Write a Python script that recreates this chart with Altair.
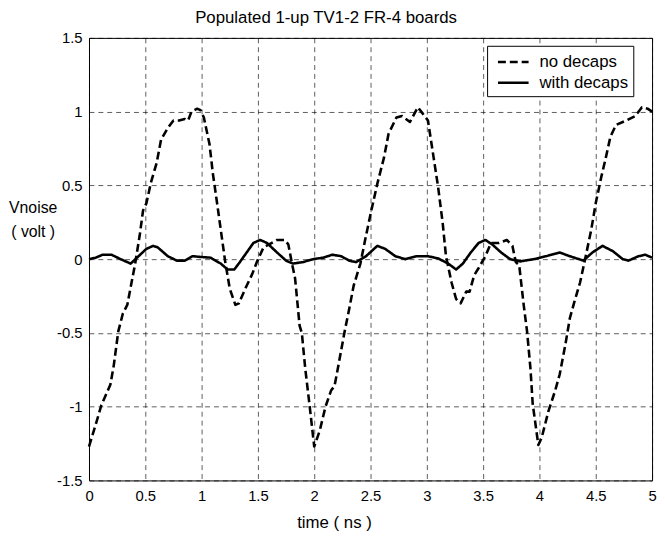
import altair as alt
import pandas as pd

# ---- data ----
t_no = [0.00, 0.06, 0.11, 0.19, 0.22, 0.26, 0.30, 0.34, 0.38, 0.41, 0.45, 0.48, 0.51, 0.55, 0.60,
        0.64, 0.70, 0.75, 0.80, 0.85, 0.88, 0.91, 0.96, 0.99, 1.02, 1.07, 1.10, 1.13, 1.17, 1.21,
        1.25, 1.30, 1.33, 1.40, 1.45, 1.49, 1.55, 1.60, 1.67, 1.74, 1.77, 1.80, 1.83, 1.87, 1.89,
        1.92, 1.96, 2.00, 2.05, 2.10, 2.15, 2.18, 2.21, 2.27, 2.31, 2.35, 2.41, 2.46, 2.51, 2.56,
        2.62, 2.66, 2.73, 2.78, 2.85, 2.92, 2.95, 3.01, 3.06, 3.10, 3.14, 3.17, 3.22, 3.26, 3.30,
        3.35, 3.38, 3.42, 3.46, 3.52, 3.57, 3.64, 3.71, 3.76, 3.79, 3.82, 3.86, 3.89, 3.92, 3.94,
        3.99, 4.02, 4.08, 4.14, 4.18, 4.23, 4.27, 4.31, 4.36, 4.40, 4.46, 4.50, 4.55, 4.59, 4.63,
        4.68, 4.77, 4.85, 4.91, 4.96, 5.00]
v_no = [-1.27, -1.12, -0.99, -0.85, -0.72, -0.49, -0.37, -0.31, -0.15, -0.03, 0.16, 0.33, 0.38, 0.52, 0.65,
        0.81, 0.89, 0.94, 0.94, 0.95, 0.94, 1.00, 1.02, 1.01, 0.96, 0.78, 0.58, 0.42, 0.20, -0.02,
        -0.20, -0.31, -0.30, -0.18, -0.10, -0.02, 0.08, 0.10, 0.13, 0.13, 0.10, -0.02, -0.13, -0.45, -0.50,
        -0.74, -1.00, -1.27, -1.16, -1.00, -0.89, -0.86, -0.74, -0.49, -0.34, -0.18, -0.03, 0.16, 0.34, 0.51,
        0.69, 0.85, 0.96, 0.97, 0.93, 1.03, 1.00, 0.94, 0.69, 0.49, 0.25, 0.02, -0.16, -0.27, -0.30,
        -0.22, -0.22, -0.11, -0.06, 0.02, 0.11, 0.11, 0.13, 0.09, -0.02, -0.04, -0.31, -0.49, -0.74, -0.98,
        -1.26, -1.21, -1.03, -0.89, -0.78, -0.58, -0.40, -0.29, -0.16, -0.02, 0.20, 0.38, 0.56, 0.69, 0.83,
        0.91, 0.94, 0.97, 1.03, 1.02, 1.00]

t_with = [0.00, 0.06, 0.12, 0.20, 0.28, 0.37, 0.44, 0.51, 0.57, 0.61, 0.70, 0.78, 0.85, 0.92, 0.99,
          1.08, 1.17, 1.23, 1.29, 1.33, 1.40, 1.46, 1.52, 1.58, 1.67, 1.75, 1.81, 1.90, 1.99, 2.08,
          2.16, 2.24, 2.31, 2.37, 2.46, 2.56, 2.63, 2.72, 2.81, 2.91, 3.01, 3.10, 3.19, 3.26, 3.32,
          3.39, 3.46, 3.52, 3.58, 3.66, 3.74, 3.83, 3.95, 4.06, 4.18, 4.27, 4.39, 4.47, 4.56, 4.65,
          4.74, 4.79, 4.88, 4.94, 5.00]
v_with = [0.00, 0.01, 0.03, 0.03, 0.00, -0.03, 0.02, 0.07, 0.09, 0.08, 0.02, -0.01, -0.01, 0.02, 0.015,
          0.01, -0.03, -0.07, -0.07, -0.03, 0.045, 0.11, 0.13, 0.11, 0.045, -0.01, -0.03, -0.02, 0.00, 0.01,
          0.03, 0.02, -0.01, -0.02, 0.02, 0.09, 0.07, 0.02, 0.00, 0.02, 0.02, 0.005, -0.03, -0.07, -0.03,
          0.045, 0.11, 0.13, 0.10, 0.045, 0.00, -0.015, 0.00, 0.02, 0.045, 0.02, -0.01, 0.045, 0.09, 0.055,
          0.00, -0.01, 0.02, 0.03, 0.01]

series_names = ["no decaps", "with decaps"]
x_ticks = [0, 0.5, 1, 1.5, 2, 2.5, 3, 3.5, 4, 4.5, 5]
y_ticks = [-1.5, -1, -0.5, 0, 0.5, 1, 1.5]

df = pd.concat([
    pd.DataFrame({"t": t_no, "v": v_no, "series": series_names[0], "i": range(len(t_no))}),
    pd.DataFrame({"t": t_with, "v": v_with, "series": series_names[1], "i": range(len(t_with))}),
])

FONT = "Liberation Sans"

chart = alt.Chart(df).mark_line(color="black", strokeWidth=2.6, strokeJoin="round").encode(
    x=alt.X("t:Q", scale=alt.Scale(domain=[0, 5], nice=False, zero=False),
            axis=alt.Axis(values=x_ticks, title="time ( ns )", titleX=248, titleY=43,
                          titleAlign="center", titleBaseline="middle", titleFontSize=17,
                          labelPadding=8, labelExpr="'' + datum.value", labelFlush=False)),
    y=alt.Y("v:Q", scale=alt.Scale(domain=[-1.5, 1.5], nice=False, zero=False),
            axis=alt.Axis(values=y_ticks, title=["Vnoise", "( volt )"], titleAngle=0,
                          titleX=-57, titleY=172, titleAlign="center", titleBaseline="middle",
                          titleFontSize=16, titleLineHeight=24, labelPadding=7, labelFlush=False,
                          labelExpr="'' + datum.value")),
    strokeDash=alt.StrokeDash("series:N",
                              scale=alt.Scale(domain=series_names, range=[[8, 4], [1, 0]]),
                              legend=alt.Legend(title=None, orient="none", legendX=403, legendY=8,
                                                symbolType="M-1.55,0H1.55", symbolSize=400,
                                                symbolStrokeWidth=2.6, symbolStrokeColor="black",
                                                labelFontSize=17, labelFont=FONT, labelColor="black",
                                                labelExpr="datum.label + ' '",
                                                labelOffset=15, rowPadding=1,
                                                strokeColor="black", fillColor="white",
                                                padding=5, symbolOffset=10)),
    order="i:Q",
).properties(
    width=570, height=448,
    title=alt.Title("Populated 1-up TV1-2 FR-4 boards", fontSize=17, font=FONT,
                    fontWeight="normal", color="black", dx=-45, offset=4),
    padding={"left": 82, "top": 27, "right": 5, "bottom": 53},
    autosize="none",
).configure_view(
    stroke="black", strokeWidth=1
).configure_axis(
    grid=True, gridColor="black", gridDash=[5, 4], gridWidth=0.8, gridOpacity=0.8,
    ticks=False, domain=False,
    labelFont=FONT, labelFontSize=15, labelColor="black",
    titleFont=FONT, titleFontSize=15, titleColor="black", titleFontWeight="normal",
)

chart.save("out.html", embed_options={"renderer": "svg", "actions": False})
